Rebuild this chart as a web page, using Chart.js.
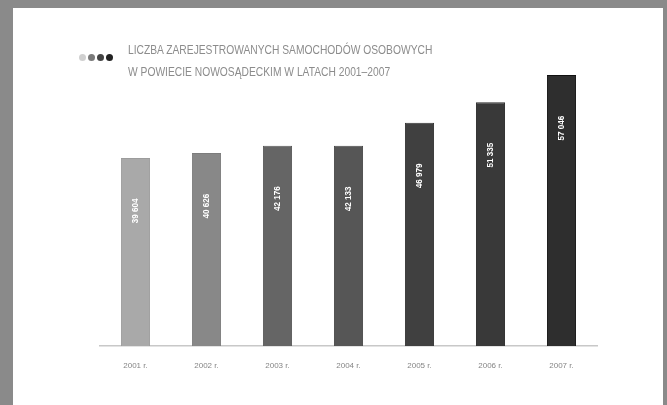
<!DOCTYPE html>
<html>
<head>
<meta charset="utf-8">
<script src="https://cdn.jsdelivr.net/npm/chart.js@4"></script>
<style>
  html, body { margin: 0; padding: 0; }
  body { width: 667px; height: 405px; background: #8a8a8a; position: relative; overflow: hidden; }
  #panel { position: absolute; left: 13px; top: 8px; width: 650px; height: 400px; background: #fff; }
  #wrap { position: absolute; left: 0; top: 0; width: 667px; height: 405px; }
  #title { position: absolute; left: 128px; top: 39px; font-family: "Liberation Sans", sans-serif; white-space: nowrap;
           font-size: 13px; line-height: 22px; color: #8c8c8c; transform: scaleX(0.79); transform-origin: left top; }
  #dots { position: absolute; left: 79px; top: 47px; }
  #dots span { display: inline-block; width: 7px; height: 7px; border-radius: 50%; margin-right: 2px; }
</style>
</head>
<body>
<div id="panel"></div>
<div id="wrap"><canvas id="carsChart" width="667" height="405"></canvas></div>
<div id="dots">
  <span style="background:#d0d0d0"></span><span style="background:#7a7a7a"></span><span style="background:#444"></span><span style="background:#222"></span>
</div>
<div id="title">LICZBA ZAREJESTROWANYCH SAMOCHODÓW OSOBOWYCH<br>W POWIECIE NOWOSĄDECKIM W LATACH 2001–2007</div>
<script>
// Data
const years = ['2001 r.', '2002 r.', '2003 r.', '2004 r.', '2005 r.', '2006 r.', '2007 r.'];
const cars = [39604, 40626, 42176, 42133, 46979, 51335, 57046];
const barColors = ['#a9a9a9', '#888888', '#656565', '#565656', '#404040', '#393939', '#2e2e2e'];
const edgeColors = ['#9c9c9c', '#7c7c7c', '#5a5a5a', '#4a4a4a', '#333333', '#2a2a2a', '#111111'];

// white rotated value labels, a fixed distance below each bar top
const valueLabels = {
    id: 'valueLabels',
    afterDatasetsDraw(chart) {
        const ctx = chart.ctx;
        const meta = chart.getDatasetMeta(0);
        ctx.save();
        ctx.fillStyle = '#ffffff';
        ctx.font = 'bold 9px "Liberation Sans", sans-serif';
        ctx.textAlign = 'center';
        ctx.textBaseline = 'middle';
        meta.data.forEach((bar, i) => {
            const txt = cars[i].toLocaleString('pl-PL').replace(/\s/g, ' ');
            ctx.save();
            ctx.translate(bar.x, bar.y + 53);
            ctx.rotate(-Math.PI / 2);
            ctx.scale(0.9, 1);
            ctx.fillText(txt, 0, 0);
            ctx.restore();
        });
        ctx.restore();
    }
};

const ctx = document.getElementById('carsChart').getContext('2d');
new Chart(ctx, {
    type: 'bar',
    data: {
        labels: years,
        datasets: [{
            data: cars,
            backgroundColor: barColors,
            borderColor: edgeColors,
            borderWidth: 1,
            barPercentage: 0.41,
            categoryPercentage: 1.0
        }]
    },
    options: {
        responsive: false,
        animation: false,
        layout: { padding: { left: 100, right: 70, top: 61, bottom: 0 } },
        plugins: {
            legend: { display: false },
            tooltip: { enabled: false }
        },
        scales: {
            x: {
                grid: { display: false, drawTicks: false },
                border: { display: true, color: '#c8c8c8', width: 1.5 },
                ticks: {
                    color: '#858585',
                    padding: 15,
                    font: { family: '"Liberation Sans", sans-serif', size: 8 }
                },
                afterFit: scale => { scale.height = 59; }
            },
            y: {
                display: false,
                min: 0,
                max: 60000
            }
        }
    },
    plugins: [valueLabels]
});
</script>
</body>
</html>
